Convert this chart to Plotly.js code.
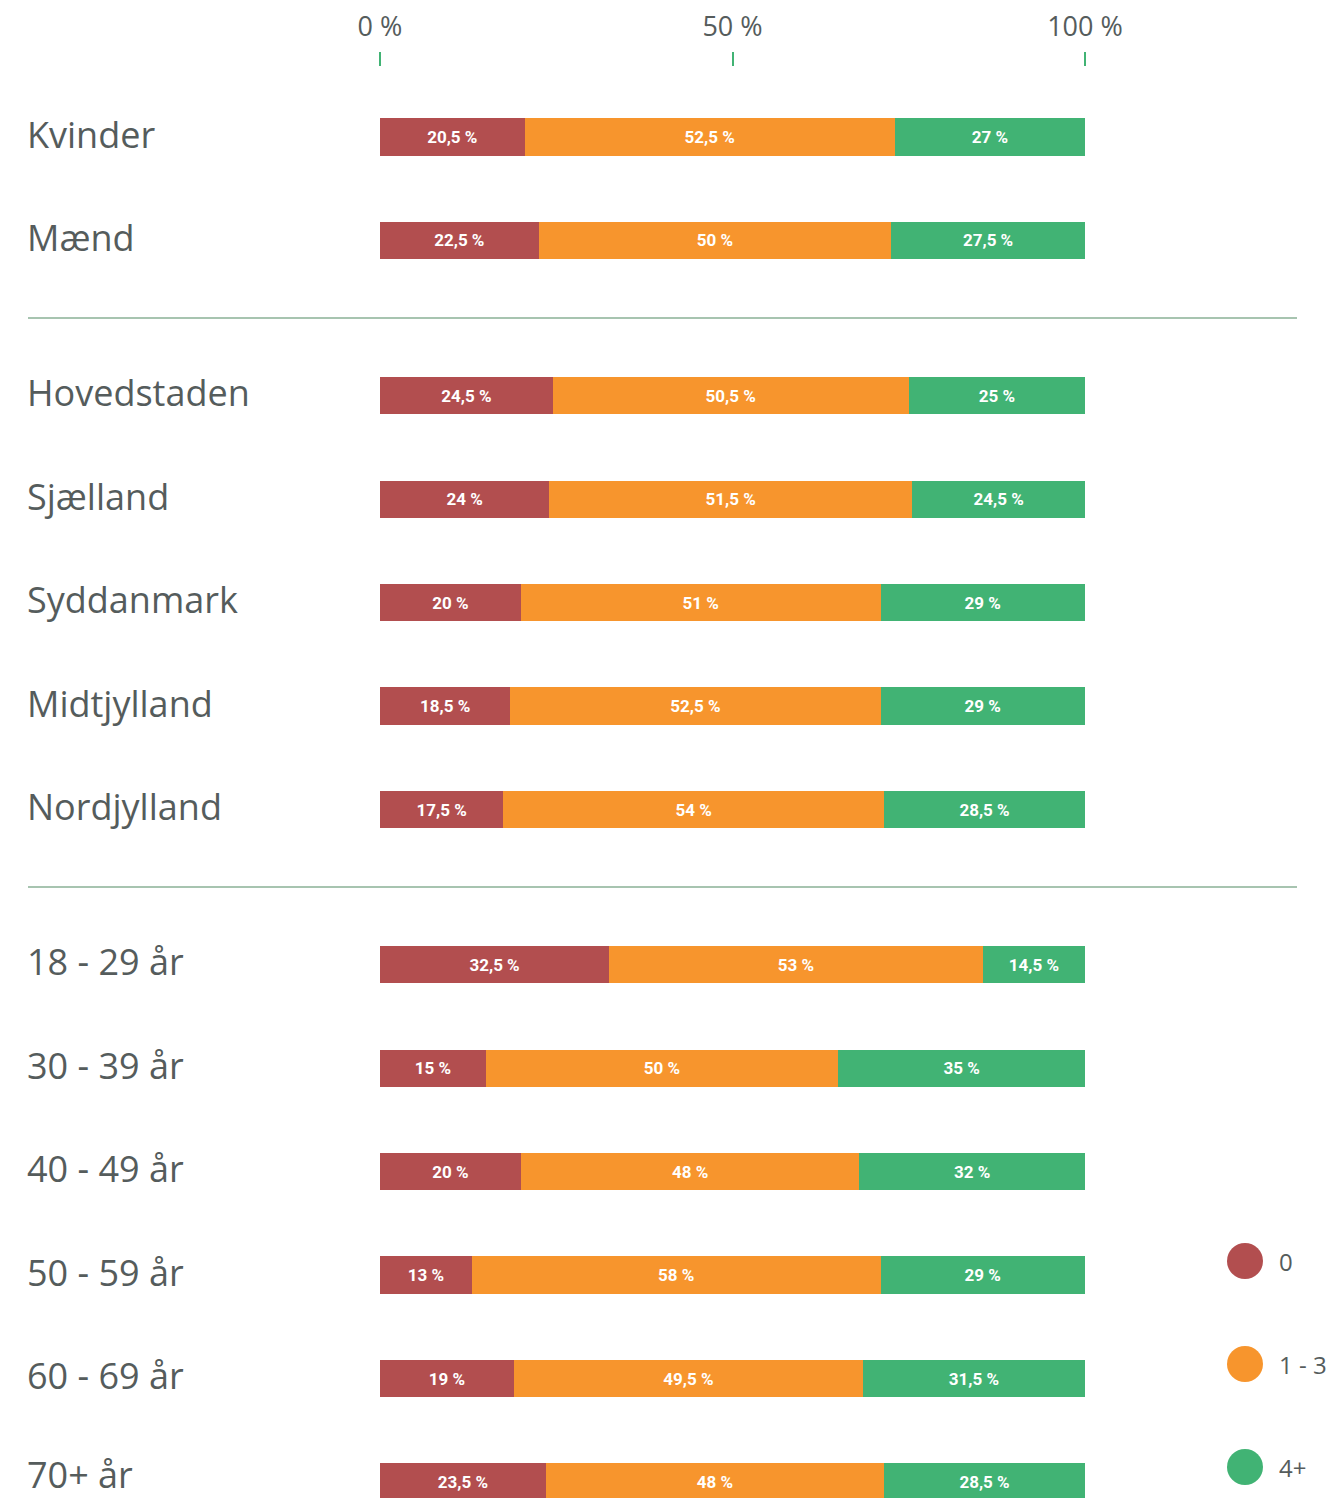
<!DOCTYPE html>
<html>
<head>
<meta charset="utf-8">
<script src="https://cdn.plot.ly/plotly-3.0.1.min.js"></script>
<style>html,body{margin:0;padding:0;background:#fff;}#chart{width:1335px;height:1498px;}</style>
</head>
<body>
<div id="chart"></div>
<script>
// Categories and their row positions (gaps between groups)
var categories = ["Kvinder","Mænd","Hovedstaden","Sjælland","Syddanmark","Midtjylland","Nordjylland","18 - 29 år","30 - 39 år","40 - 49 år","50 - 59 år","60 - 69 år","70+ år"];
var rowPos = [0,1,2.5,3.5,4.5,5.5,6.5,8,9,10,11,12,13];
var separators = [1.75, 7.25];

var seriesNames = ["0","1 - 3","4+"];
var seriesColors = ["#b24e4f","#f7952d","#41b374"];
var valuesZero   = [20.5,22.5,24.5,24,20,18.5,17.5,32.5,15,20,13,19,23.5];
var valuesOneThree = [52.5,50,50.5,51.5,51,52.5,54,53,50,48,58,49.5,48];
var valuesFourPlus = [27,27.5,25,24.5,29,29,28.5,14.5,35,32,29,31.5,28.5];

var tickVals = [0,50,100];
var tickText = ["0 %","50 %","100 %"];

var W = 1335, H = 1498, L = 380, R = 250, T = 67, B = 0;
var plotW = W - L - R, plotH = H - T - B;
function px2paperX(px){ return (px - L) / plotW; }
function px2paperY(py){ return (H - B - py) / plotH; }

function fmt(v){ return String(v).replace('.', ',') + ' %'; }

var allValues = [valuesZero, valuesOneThree, valuesFourPlus];
var traces = allValues.map(function(vals, i){
  return {
    type: 'bar',
    orientation: 'h',
    name: seriesNames[i],
    x: vals,
    y: rowPos,
    width: 0.36,
    marker: {color: seriesColors[i], line: {width: 0}},
    text: vals.map(fmt),
    textposition: 'inside',
    insidetextanchor: 'middle',
    constraintext: 'none',
    textfont: {family: 'Roboto, sans-serif', size: 17, color: '#ffffff', weight: 'bold'},
    hoverinfo: 'skip',
    showlegend: false
  };
});

var annotations = categories.map(function(c, i){
  return {
    text: c, xref: 'paper', x: px2paperX(26), xanchor: 'left',
    yref: 'y', y: rowPos[i], yanchor: 'middle', yshift: (i === categories.length - 1 ? 7 : 3),
    showarrow: false, borderpad: 0,
    font: {family: '"Open Sans", sans-serif', size: 36, color: '#555c5c'}
  };
});

var shapes = separators.map(function(s){
  return {type: 'line', xref: 'paper', yref: 'y', x0: px2paperX(28), x1: px2paperX(1297), y0: s, y1: s,
          line: {color: '#a7c4b0', width: 2}, layer: 'below'};
});

// Custom legend with round markers
var legendY = [1261, 1364, 1467];
seriesNames.forEach(function(n, i){
  var cx = 1245, cy = legendY[i], r = 18;
  shapes.push({type: 'circle', xref: 'paper', yref: 'paper',
    x0: px2paperX(cx - r), x1: px2paperX(cx + r), y0: px2paperY(cy + r), y1: px2paperY(cy - r),
    fillcolor: seriesColors[i], line: {width: 0}});
  annotations.push({text: n, xref: 'paper', yref: 'paper', x: px2paperX(1278), y: px2paperY(cy),
    xanchor: 'left', yanchor: 'middle', showarrow: false, borderpad: 0,
    font: {family: '"Open Sans", sans-serif', size: 24, color: '#555c5c'}});
});

var layout = {
  width: W, height: H,
  margin: {l: L, r: R, t: T, b: B, pad: 0},
  barmode: 'stack',
  paper_bgcolor: '#ffffff', plot_bgcolor: '#ffffff',
  showlegend: false,
  xaxis: {
    side: 'top', range: [0, 100], tickvals: tickVals, ticktext: tickText,
    ticks: 'outside', ticklen: 14, tickwidth: 2, tickcolor: '#41b374',
    ticklabelstandoff: 5,
    showgrid: false, zeroline: false, showline: false, fixedrange: true,
    tickfont: {family: '"Open Sans", sans-serif', size: 27, color: '#555c5c'}
  },
  yaxis: {
    range: [13.155, -0.677], showticklabels: false, ticks: '', showgrid: false,
    zeroline: false, showline: false, fixedrange: true
  },
  annotations: annotations,
  shapes: shapes
};

Plotly.newPlot('chart', traces, layout, {displayModeBar: false, staticPlot: true});
</script>
</body>
</html>
